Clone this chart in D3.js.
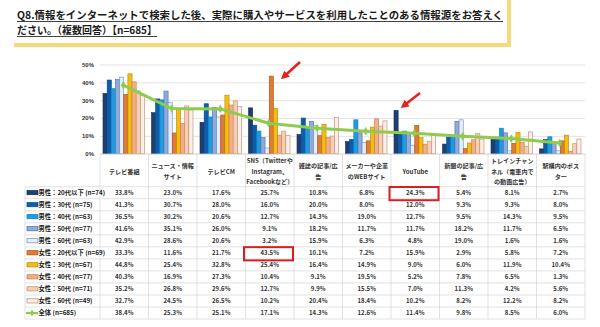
<!DOCTYPE html>
<html><head><meta charset="utf-8">
<script src="https://cdn.jsdelivr.net/npm/d3@7"></script>
<style>
html,body{margin:0;padding:0;background:#fff;}
svg{display:block;font-family:"Noto Sans CJK JP","Noto Sans",sans-serif;}
</style></head>
<body><svg id="c" width="600" height="327"></svg>
<script>
const titleLines = ["Q8.情報をインターネットで検索した後、実際に購入やサービスを利用したことのある情報源をお答えく", "ださい。（複数回答）【n=685】"];
const categories = ["テレビ番組","ニュース・情報サイト","テレビCM","SNS（Twitterや Instagram、Facebookなど）","雑誌の記事/広告","メーカーや企業のWEBサイト","YouTube","新聞の記事/広告","トレインチャンネル（電車内での動画広告）","駅構内のポスター"];
const categoryLines = [["テレビ番組"],["ニュース・情報","サイト"],["テレビCM"],["SNS（Twitterや","Instagram、","Facebookなど）"],["雑誌の記事/広","告"],["メーカーや企業","のWEBサイト"],["YouTube"],["新聞の記事/広","告"],["トレインチャン","ネル（電車内で","の動画広告）"],["駅構内のポス","ター"]];
const seriesNames = ["男性：20代以下 (n=74)","男性：30代 (n=75)","男性：40代 (n=63)","男性：50代 (n=77)","男性：60代 (n=63)","女性：20代以下 (n=69)","女性：30代 (n=67)","女性：40代 (n=77)","女性：50代 (n=71)","女性：60代 (n=49)"];
const m20 = [33.8,23.0,17.6,25.7,10.8,6.8,24.3,5.4,8.1,2.7];
const m30 = [41.3,30.7,28.0,16.0,20.0,8.0,12.0,9.3,9.3,8.0];
const m40 = [36.5,30.2,20.6,12.7,14.3,19.0,12.7,9.5,14.3,9.5];
const m50 = [41.6,35.1,26.0,9.1,18.2,11.7,11.7,18.2,11.7,6.5];
const m60 = [42.9,28.6,20.6,3.2,15.9,6.3,4.8,19.0,1.6,1.6];
const f20 = [33.3,11.6,21.7,43.5,10.1,7.2,15.9,2.9,5.8,7.2];
const f30 = [44.8,25.4,32.8,25.4,16.4,14.9,9.0,6.0,11.9,10.4];
const f40 = [40.3,16.9,27.3,10.4,9.1,19.5,5.2,7.8,6.5,1.3];
const f50 = [35.2,26.8,29.6,12.7,9.9,15.5,7.0,11.3,4.2,5.6];
const f60 = [32.7,24.5,26.5,10.2,20.4,18.4,10.2,8.2,12.2,8.2];
const totalName = "全体 (n=685)";
const total = [38.4,25.3,25.1,17.1,14.3,12.6,11.4,9.8,8.5,6.0];
const yTicks = [0,10,20,30,40,50];
const highlights = [{s:0,c:6},{s:5,c:3}];

const seriesValues = [m20,m30,m40,m50,m60,f20,f30,f40,f50,f60];
const fills = ["#1F3F73","#0C5DAB","#1E9BE0","#8FAADC","#E6EFF9","#E07A35","#F7BC12","#F2AE85","#F8CDB2","#FDEFE6"];
const strokes = ["#142C55","#084A88","#1580BB","#4A6EA8","#6F8FBF","#A5521C","#B58700","#C07A50","#C28E70","#B88870"];
const green = "#8FCB4E";

const svg = d3.select("#c");

// Title box
svg.append("rect").attr("x",14).attr("y",0).attr("width",497).attr("height",47).attr("fill","#F6D978");
svg.append("rect").attr("x",10).attr("y",-3).attr("width",497).attr("height",46).attr("fill","#fff");
const tt = svg.append("g");
tt.append("text").attr("x",17).attr("y",19).attr("font-size",10.5).attr("font-weight","bold")
  .attr("textLength",486).attr("lengthAdjust","spacingAndGlyphs").attr("fill","#1a1a1a")
  .text(titleLines[0]);
tt.append("text").attr("x",17).attr("y",34).attr("font-size",10.5).attr("font-weight","bold")
  .attr("textLength",140).attr("lengthAdjust","spacingAndGlyphs").attr("fill","#1a1a1a")
  .text(titleLines[1]);
tt.append("line").attr("x1",17).attr("x2",503).attr("y1",21.5).attr("y2",21.5).attr("stroke","#111").attr("stroke-width",0.8);
tt.append("line").attr("x1",17).attr("x2",157).attr("y1",36.5).attr("y2",36.5).attr("stroke","#111").attr("stroke-width",0.8);

// Scales
const x0 = d3.scaleBand().domain(categories).range([100,585]).padding(0);
const bw = x0.bandwidth();
const x1 = d3.scaleBand().domain(d3.range(10)).range([3, bw-4]).padding(0);
const y = d3.scaleLinear().domain([0,50]).range([153.7,64.5]);

// Grid & y labels
const yAxis = d3.axisLeft(y).tickValues(yTicks).tickFormat(d=>d+"%").tickSize(-(585-100));
const ga = svg.append("g").attr("transform","translate(100,0)").call(yAxis);
ga.select(".domain").remove();
ga.selectAll(".tick line").attr("stroke","#DCDCDC").attr("stroke-width",0.8);
ga.selectAll(".tick text").attr("x",-6).attr("font-size",6).attr("font-weight","bold").attr("fill","#333");

// Bars
const groups = svg.append("g").selectAll("g").data(categories).join("g")
  .attr("transform",d=>`translate(${x0(d)},0)`);
groups.selectAll("rect").data((d,ci)=>seriesValues.map((arr,si)=>({si,v:arr[ci]}))).join("rect")
  .attr("x",d=>x1(d.si)).attr("width",x1.bandwidth())
  .attr("y",d=>y(d.v)).attr("height",d=>y(0)-y(d.v))
  .attr("fill",d=>fills[d.si]).attr("stroke",d=>strokes[d.si]).attr("stroke-width",0.6);

// Total line
const line = d3.line().x((d,i)=>x0(categories[i])+bw/2-1).y(d=>y(d));
svg.append("path").datum(total).attr("d",line).attr("fill","none").attr("stroke",green).attr("stroke-width",3);
svg.append("g").selectAll("path").data(total).join("path")
  .attr("d",d3.symbol().type(d3.symbolDiamond).size(22))
  .attr("transform",(d,i)=>`translate(${x0(categories[i])+bw/2-1},${y(d)})`)
  .attr("fill",green);

// Arrows
const defs = svg.append("defs");
defs.append("marker").attr("id","ah").attr("viewBox","0 0 10 10").attr("refX",5).attr("refY",5)
  .attr("markerWidth",3.2).attr("markerHeight",3.2).attr("orient","auto")
  .append("path").attr("d","M0,0 L10,5 L0,10 z").attr("fill","#E8211C");
[[300,62,284,76.5],[420,93,404,105.5]].forEach(a=>{
  svg.append("line").attr("x1",a[0]).attr("y1",a[1]).attr("x2",a[2]).attr("y2",a[3])
    .attr("stroke","#E8211C").attr("stroke-width",2.6).attr("marker-end","url(#ah)");
});

// Table
const tableTop = 154, headerBottom = 186.7, rowH = 12.03;
const nRows = 11;
const tableBottom = headerBottom + nRows*rowH;
const tg = svg.append("g");
const gridC = "#D6D6D6";
categories.forEach((c,i)=>{
  tg.append("line").attr("x1",x0(c)).attr("x2",x0(c)).attr("y1",tableTop).attr("y2",tableBottom).attr("stroke",gridC).attr("stroke-width",0.7);
});
tg.append("line").attr("x1",585).attr("x2",585).attr("y1",tableTop).attr("y2",tableBottom).attr("stroke",gridC).attr("stroke-width",0.7);
tg.append("line").attr("x1",25).attr("x2",25).attr("y1",headerBottom).attr("y2",tableBottom).attr("stroke",gridC).attr("stroke-width",0.7);
for(let r=0;r<=nRows;r++){
  const yy = headerBottom + r*rowH;
  tg.append("line").attr("x1",25).attr("x2",585).attr("y1",yy).attr("y2",yy).attr("stroke",gridC).attr("stroke-width",0.7);
}
tg.append("line").attr("x1",100).attr("x2",585).attr("y1",tableTop).attr("y2",tableTop).attr("stroke",gridC).attr("stroke-width",0.7);

// headers
categoryLines.forEach((lines,i)=>{
  const cx = x0(categories[i])+bw/2;
  const cy = (tableTop+headerBottom)/2 + 1;
  const lh = 10.7;
  lines.forEach((t,k)=>{
    tg.append("text").attr("x",cx).attr("y",cy + (k-(lines.length-1)/2)*lh + 2.2)
      .attr("text-anchor","middle").attr("font-size",6.1).attr("font-weight","bold").attr("fill","#333").text(t);
  });
});

// rows
const allNames = seriesNames.concat([totalName]);
const allVals = seriesValues.concat([total]);
allNames.forEach((nm,r)=>{
  const cy = headerBottom + r*rowH + rowH/2;
  if(r<10){
    tg.append("rect").attr("x",27).attr("y",cy-2.2).attr("width",11).attr("height",4.2)
      .attr("fill",fills[r]).attr("stroke",strokes[r]).attr("stroke-width",0.7);
  } else {
    tg.append("line").attr("x1",26).attr("x2",38).attr("y1",cy).attr("y2",cy).attr("stroke",green).attr("stroke-width",2.2);
    tg.append("path").attr("d",d3.symbol().type(d3.symbolDiamond).size(14)).attr("transform",`translate(32,${cy})`).attr("fill",green);
  }
  tg.append("text").attr("x",38.5).attr("y",cy+2.3).attr("font-size",6.3).attr("font-weight","bold").attr("fill","#222").text(nm);
  allVals[r].forEach((v,ci)=>{
    tg.append("text").attr("x",x0(categories[ci])+bw/2).attr("y",cy+2.2).attr("text-anchor","middle")
      .attr("font-size",6).attr("font-weight","bold").attr("fill","#333").text(v.toFixed(1)+"%");
  });
});

// highlight boxes
highlights.forEach(h=>{
  const xx = x0(categories[h.c]);
  const yy = headerBottom + h.s*rowH;
  tg.append("rect").attr("x",xx-1.5).attr("y",yy+0.3).attr("width",bw+0.5).attr("height",rowH+1.2)
    .attr("fill","none").attr("stroke","#D42020").attr("stroke-width",2);
});
</script></body></html>
